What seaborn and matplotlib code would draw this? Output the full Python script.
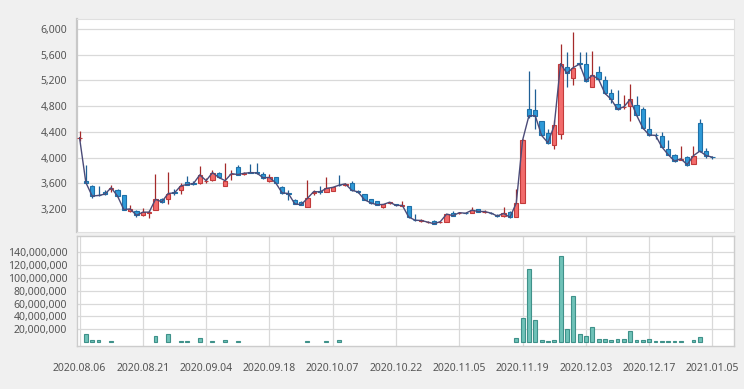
import numpy as np
import pandas as pd
import matplotlib
matplotlib.use('Agg')
import matplotlib.pyplot as plt
import seaborn as sns

# Korean trading days 2020.08.06 - 2021.01.05
holidays = ['2020-08-17', '2020-09-30', '2020-10-01', '2020-10-02', '2020-10-09',
            '2020-12-25', '2020-12-31', '2021-01-01']
dates = [d for d in pd.bdate_range('2020-08-06', '2021-01-05')
         if d.strftime('%Y-%m-%d') not in holidays]

opens = [4300, 3640, 3560, 3420, 3470, 3510, 3500, 3410, 3175, 3170,
         3100, 3140, 3190, 3350, 3360, 3460, 3490, 3620, 3610, 3600,
         3630, 3655, 3765, 3560, 3740, 3850, 3740, 3775, 3775, 3750,
         3630, 3690, 3540, 3455, 3340, 3310, 3230, 3450, 3475, 3470,
         3480, 3580, 3575, 3600, 3480, 3430, 3350, 3320, 3230, 3295,
         3270, 3250, 3245, 3035, 3015, 2990, 3015, 2995, 3000, 3140,
         3130, 3140, 3135, 3195, 3155, 3140, 3100, 3085, 3155, 3080,
         3290, 4760, 4735, 4565, 4385, 4200, 4370, 5410, 5230, 5465,
         5450, 5105, 5335, 5200, 5000, 4840, 4780, 4800, 4810, 4750,
         4445, 4350, 4330, 4125, 4045, 3965, 4010, 3905, 4540, 4105,
         4010]
highs = [4420, 3890, 3580, 3560, 3500, 3580, 3510, 3420, 3260, 3180,
         3220, 3190, 3740, 3370, 3770, 3510, 3610, 3716, 3630, 3870,
         3680, 3800, 3780, 3910, 3810, 3890, 3770, 3900, 3915, 3770,
         3745, 3700, 3560, 3500, 3350, 3320, 3650, 3500, 3550, 3695,
         3545, 3730, 3600, 3640, 3500, 3440, 3360, 3330, 3280, 3310,
         3280, 3330, 3250, 3120, 3040, 3010, 3030, 3010, 3125, 3170,
         3160, 3160, 3236, 3200, 3180, 3160, 3115, 3227, 3170, 3510,
         4290, 5350, 5060, 4570, 4450, 4580, 5765, 5635, 5950, 5640,
         5635, 5660, 5425, 5270, 5060, 5050, 4970, 5140, 4965, 4790,
         4635, 4380, 4395, 4280, 4050, 4185, 4020, 4175, 4605, 4150,
         4020]
lows = [4260, 3600, 3370, 3400, 3420, 3470, 3390, 3180, 3160, 3070,
        3090, 3060, 3180, 3290, 3270, 3420, 3440, 3570, 3580, 3590,
        3610, 3640, 3680, 3555, 3650, 3730, 3730, 3755, 3750, 3670,
        3625, 3600, 3440, 3340, 3270, 3255, 3225, 3420, 3440, 3465,
        3475, 3560, 3550, 3480, 3450, 3335, 3280, 3255, 3220, 3280,
        3240, 3240, 3060, 3010, 3000, 2975, 2960, 2985, 2995, 3090,
        3125, 3120, 3130, 3150, 3140, 3125, 3080, 3080, 3060, 3075,
        3285, 4620, 4440, 4330, 4210, 4140, 4290, 5100, 5135, 5390,
        5180, 5095, 5210, 4990, 4855, 4740, 4760, 4565, 4650, 4446,
        4335, 4290, 4160, 4040, 3930, 3955, 3870, 3900, 4090, 3995,
        3980]
closes = [4310, 3610, 3400, 3410, 3430, 3530, 3400, 3190, 3200, 3100,
          3150, 3150, 3350, 3310, 3440, 3450, 3560, 3580, 3595, 3730,
          3640, 3765, 3690, 3640, 3750, 3735, 3755, 3765, 3760, 3685,
          3690, 3605, 3450, 3440, 3280, 3265, 3365, 3470, 3465, 3520,
          3535, 3570, 3590, 3490, 3465, 3345, 3295, 3265, 3270, 3305,
          3255, 3255, 3075, 3025, 3020, 2995, 2970, 3002, 3120, 3095,
          3142, 3133, 3180, 3160, 3160, 3135, 3090, 3130, 3070, 3290,
          4270, 4650, 4650, 4345, 4230, 4500, 5460, 5310, 5400, 5455,
          5195, 5280, 5220, 5000, 4905, 4750, 4790, 4905, 4660, 4460,
          4350, 4345, 4165, 4045, 3945, 3980, 3890, 4030, 4100, 4030,
          4005]
volumes = [0, 12e6, 4e6, 4e6, 0, 2.5e6, 0, 0, 0, 0,
           0, 0, 10e6, 0, 12e6, 0, 2.5e6, 2.5e6, 0, 7e6,
           0, 2.5e6, 0, 4e6, 0, 2.5e6, 0, 0, 0, 0,
           0, 0, 0, 0, 0, 0, 2.5e6, 0, 0, 2.5e6,
           0, 4e6, 0, 0, 0, 0, 0, 0, 0, 0,
           0, 0, 0, 0, 0, 0, 0, 0, 0, 0,
           0, 0, 0, 0, 0, 0, 0, 0, 0, 6.5e6,
           37e6, 114e6, 34e6, 3e6, 2e6, 3e6, 133e6, 20.5e6, 71e6, 13e6,
           10e6, 23e6, 5e6, 5e6, 4e6, 5e6, 5e6, 18e6, 4e6, 4e6,
           5e6, 2.5e6, 2.5e6, 2.5e6, 2.5e6, 2.5e6, 0, 3e6, 8.5e6, 0,
           0]

price_ticks = [3200, 3600, 4000, 4400, 4800, 5200, 5600, 6000]
volume_ticks = [20e6, 40e6, 60e6, 80e6, 100e6, 120e6, 140e6]

df = pd.DataFrame({'open': opens, 'high': highs, 'low': lows,
                   'close': closes, 'volume': volumes})
df['idx'] = np.arange(len(df))
df['date'] = [d.strftime('%Y.%m.%d') for d in dates[:len(df)]]

sns.set_style('white')
plt.rcParams['font.family'] = ['Noto Sans', 'DejaVu Sans']

W, H = 744, 389
fig = plt.figure(figsize=(W / 100, H / 100), dpi=100, facecolor='#f0f0f0')
ax = fig.add_axes([77 / W, 1 - 232 / H, (734 - 77) / W, (232 - 19) / H])
axv = fig.add_axes([77 / W, 1 - 346 / H, (734 - 77) / W, (346 - 236) / H])

grid_c = '#d9d9d9'
tick_c = '#555555'

# candles
up = df['close'] >= df['open']
for is_up, fill, edge, wick in [(True, '#f26b6b', '#c23a3a', '#a52a2a'),
                                (False, '#2e9ad8', '#1f70a8', '#1f5f95')]:
    sub = df[up == is_up]
    ax.vlines(sub['idx'], sub['low'], sub['high'], color=wick, lw=0.9, zorder=2)
    ax.bar(sub['idx'], (sub['close'] - sub['open']).abs(),
           bottom=np.minimum(sub['open'], sub['close']), width=0.68,
           color=fill, edgecolor=edge, linewidth=0.8, zorder=3)

sns.lineplot(data=df, x='idx', y='close', ax=ax, color='#4b4b78', lw=1.0, zorder=4)

ax.set_xlim(-0.4, 103.4)
ax.set_ylim(2841, 6156)
ax.set_yticks(price_ticks)
ax.set_yticklabels([f'{v:,}' for v in price_ticks])
ax.set_xticks([])
ax.set_xlabel('')
ax.set_ylabel('')
ax.grid(axis='y', color=grid_c, lw=0.9)
ax.set_axisbelow(True)
ax.tick_params(axis='y', length=0, pad=7, labelsize=7.5, labelcolor=tick_c)
for s in ['top', 'right', 'bottom']:
    ax.spines[s].set_color('#e0e0e0')
    ax.spines[s].set_linewidth(0.8)
ax.spines['left'].set_color('#c8c8c8')
ax.spines['left'].set_linewidth(1.6)

# volume
vd = df[df['volume'] > 0]
axv.bar(vd['idx'], vd['volume'], width=0.62, color='#6fc2b8',
        edgecolor='#3f918a', linewidth=0.8, zorder=3)
axv.set_xlim(-0.4, 103.4)
axv.set_ylim(-5.9e6, 164.7e6)
axv.set_yticks(volume_ticks)
axv.set_yticklabels([f'{int(v):,}' for v in volume_ticks])
tick_idx = list(range(0, len(df), 10))
axv.set_xticks(tick_idx)
axv.set_xticklabels([df['date'][i] for i in tick_idx])
axv.grid(True, color=grid_c, lw=0.9)
axv.set_axisbelow(True)
axv.tick_params(axis='y', length=0, pad=7, labelsize=7.5, labelcolor=tick_c)
axv.tick_params(axis='x', length=0, pad=12, labelsize=7.5, labelcolor=tick_c)
for s in axv.spines.values():
    s.set_color('#cccccc')
    s.set_linewidth(1.0)

fig.savefig('out.png', dpi=100, facecolor=fig.get_facecolor())
